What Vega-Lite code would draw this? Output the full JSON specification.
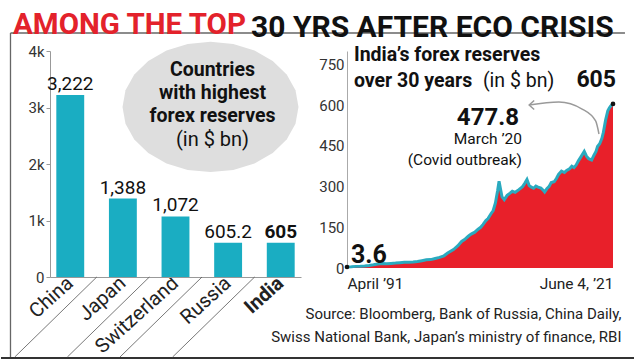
{
  "$schema": "https://vega.github.io/schema/vega-lite/v6.json",
  "background": "white",
  "padding": {"left": 0, "top": 9, "right": 0, "bottom": 0},
  "bounds": "flush",
  "spacing": 46,
  "config": {"view": {"stroke": null}, "font": "Roboto"},
  "hconcat": [
    {
      "width": 251,
      "height": 226,
      "title": {"text": "AMONG THE TOP", "anchor": "start", "frame": "group", "dx": -37, "color": "#e3222b", "font": "Roboto", "fontSize": 29.5, "fontWeight": "bold", "baseline": "alphabetic", "offset": -31},
      "data": {"values": [
        {"country": "China", "value": 3222},
        {"country": "Japan", "value": 1388},
        {"country": "Switzerland", "value": 1072},
        {"country": "Russia", "value": 605.2},
        {"country": "India", "value": 605}
      ]},
      "layer": [
        {
          "data": {"values": [{}]},
          "mark": {"type": "point", "shape": "M1,0 L0.9659,0.1915 L0.866,0.37 L0.7071,0.5233 L0.5,0.6409 L0.2588,0.7148 L0,0.74 L-0.2588,0.7148 L-0.5,0.6409 L-0.7071,0.5233 L-0.866,0.37 L-0.9659,0.1915 L-1,0 L-0.9659,-0.1915 L-0.866,-0.37 L-0.7071,-0.5233 L-0.5,-0.6409 L-0.2588,-0.7148 L0,-0.74 L0.2588,-0.7148 L0.5,-0.6409 L0.7071,-0.5233 L0.866,-0.37 L0.9659,-0.1915 Z", "filled": true, "color": "#dedede", "opacity": 1, "strokeWidth": 0, "size": 30976, "xOffset": 35},
          "encoding": {
            "x": {"datum": "Switzerland", "type": "nominal", "scale": {"domain": ["China", "Japan", "Switzerland", "Russia", "India"], "paddingInner": 0.47, "paddingOuter": 0.12}},
            "y": {"datum": 3009, "type": "quantitative", "scale": {"domain": [0, 4000]}}
          }
        },
        {
          "data": {"values": [{}]},
          "mark": {"type": "rule", "color": "#666", "strokeWidth": 1.3},
          "encoding": {
            "x": {"datum": "China", "type": "nominal", "bandPosition": -1.643},
            "y": {"datum": 4319, "type": "quantitative"},
            "y2": {"datum": -1434}
          }
        },
        {
          "data": {"values": [{}]},
          "mark": {"type": "rule", "color": "#666", "strokeWidth": 1.3},
          "encoding": {
            "x": {"datum": "China", "type": "nominal", "bandPosition": -1.643},
            "x2": {"datum": "China", "bandPosition": 20.39},
            "y": {"datum": 4319, "type": "quantitative"}
          }
        },
        {
          "data": {"values": [{}]},
          "mark": {"type": "rule", "color": "#333", "strokeWidth": 2},
          "encoding": {
            "x": {"datum": "China", "type": "nominal", "bandPosition": -1.983},
            "x2": {"datum": "China", "bandPosition": 20.75},
            "y": {"datum": -1434, "type": "quantitative"}
          }
        },
        {
          "data": {"values": [{}]},
          "mark": {"type": "text", "text": "Countries\nwith highest\nforex reserves", "lineBreak": "\n", "lineHeight": 23, "font": "Roboto", "fontSize": 19.5, "fontWeight": "bold", "color": "#111", "align": "center", "baseline": "middle", "dx": 37},
          "encoding": {
            "x": {"datum": "Switzerland", "type": "nominal"},
            "y": {"datum": 3664, "type": "quantitative"}
          }
        },
        {
          "data": {"values": [{}]},
          "mark": {"type": "text", "text": "(in $ bn)", "font": "Roboto", "fontSize": 20, "color": "#111", "align": "center", "baseline": "middle", "dx": 37},
          "encoding": {
            "x": {"datum": "Switzerland", "type": "nominal"},
            "y": {"datum": 2420, "type": "quantitative"}
          }
        },
        {
          "mark": {"type": "bar", "color": "#1aadc2"},
          "encoding": {
            "x": {"field": "country", "type": "nominal", "sort": null,
              "axis": {"title": null, "ticks": false, "domainColor": "#999", "labelAngle": -42, "labelFont": "Roboto", "labelFontSize": 20, "labelColor": "#222", "labelPadding": 3,
                "labelFontWeight": {"condition": {"test": "datum.value === 'India'", "value": "bold"}, "value": "normal"}}},
            "y": {"field": "value", "type": "quantitative",
              "axis": {"title": null, "grid": false, "values": [0, 1000, 2000, 3000, 4000], "labelExpr": "datum.value == 0 ? '0' : (datum.value / 1000) + 'k'", "domainColor": "#999", "tickColor": "#999", "tickSize": 4, "labelFont": "Roboto", "labelFontSize": 15, "labelColor": "#333", "labelPadding": 2}}
          }
        },
        {
          "transform": [{"filter": "datum.country !== 'India'"}],
          "mark": {"type": "text", "font": "Roboto", "fontSize": 19, "color": "#111", "baseline": "alphabetic", "dy": -5},
          "encoding": {
            "x": {"field": "country", "type": "nominal"},
            "y": {"field": "value", "type": "quantitative"},
            "text": {"field": "value", "type": "quantitative", "format": ","}
          }
        },
        {
          "transform": [{"filter": "datum.country === 'India'"}],
          "mark": {"type": "text", "font": "Roboto", "fontSize": 19, "fontWeight": "bold", "color": "#111", "baseline": "alphabetic", "dy": -5},
          "encoding": {
            "x": {"field": "country", "type": "nominal"},
            "y": {"field": "value", "type": "quantitative"},
            "text": {"field": "value", "type": "quantitative", "format": ","}
          }
        },
        {
          "transform": [{"filter": "datum.country !== 'India'"}],
          "mark": {"type": "rule", "color": "#555", "strokeWidth": 0.8, "x2Offset": -82},
          "encoding": {
            "x": {"field": "country", "type": "nominal", "bandPosition": 1.45},
            "x2": {"field": "country", "bandPosition": 1.45},
            "y": {"datum": 0, "type": "quantitative"},
            "y2": {"datum": -1416}
          }
        }
      ]
    },
    {
      "width": 266,
      "height": 217,
      "title": {"text": "30 YRS AFTER ECO CRISIS", "anchor": "start", "frame": "group", "dx": -96, "color": "#111", "font": "Roboto", "fontSize": 30, "fontWeight": "bold", "baseline": "alphabetic", "offset": -22},
      "data": {"values": [
        {"date": "1991-04-01", "value": 3.6},
        {"date": "1991-10-01", "value": 4.5},
        {"date": "1992-04-01", "value": 6.0},
        {"date": "1992-10-01", "value": 6.5},
        {"date": "1993-04-01", "value": 7.5},
        {"date": "1993-10-01", "value": 9.5},
        {"date": "1994-04-01", "value": 12},
        {"date": "1994-10-01", "value": 15},
        {"date": "1995-04-01", "value": 17},
        {"date": "1995-10-01", "value": 16},
        {"date": "1996-04-01", "value": 17},
        {"date": "1996-10-01", "value": 18},
        {"date": "1997-04-01", "value": 19.5},
        {"date": "1997-10-01", "value": 21},
        {"date": "1998-04-01", "value": 21},
        {"date": "1998-10-01", "value": 22},
        {"date": "1999-04-01", "value": 24},
        {"date": "1999-10-01", "value": 27},
        {"date": "2000-04-01", "value": 30},
        {"date": "2000-10-01", "value": 31},
        {"date": "2001-04-01", "value": 35},
        {"date": "2001-10-01", "value": 39},
        {"date": "2002-04-01", "value": 45},
        {"date": "2002-09-01", "value": 55},
        {"date": "2003-05-01", "value": 68},
        {"date": "2003-11-01", "value": 82},
        {"date": "2004-04-01", "value": 98},
        {"date": "2004-08-01", "value": 105},
        {"date": "2005-01-01", "value": 117},
        {"date": "2005-05-01", "value": 125},
        {"date": "2005-10-01", "value": 132},
        {"date": "2006-02-01", "value": 142},
        {"date": "2006-06-01", "value": 150},
        {"date": "2006-09-01", "value": 160},
        {"date": "2007-01-01", "value": 175},
        {"date": "2007-04-01", "value": 182},
        {"date": "2007-08-01", "value": 200},
        {"date": "2007-11-01", "value": 212},
        {"date": "2008-02-01", "value": 240},
        {"date": "2008-05-01", "value": 285},
        {"date": "2008-07-01", "value": 320},
        {"date": "2008-09-01", "value": 290},
        {"date": "2008-11-01", "value": 262},
        {"date": "2009-02-01", "value": 252},
        {"date": "2009-06-01", "value": 268},
        {"date": "2009-10-01", "value": 276},
        {"date": "2010-01-01", "value": 283},
        {"date": "2010-05-01", "value": 279},
        {"date": "2010-10-01", "value": 289},
        {"date": "2011-03-01", "value": 300},
        {"date": "2011-06-01", "value": 312},
        {"date": "2011-09-01", "value": 326},
        {"date": "2011-12-01", "value": 304},
        {"date": "2012-03-01", "value": 298},
        {"date": "2012-06-01", "value": 294},
        {"date": "2012-09-01", "value": 302},
        {"date": "2012-12-01", "value": 298},
        {"date": "2013-04-01", "value": 295},
        {"date": "2013-07-01", "value": 287},
        {"date": "2013-09-01", "value": 280},
        {"date": "2013-12-01", "value": 292},
        {"date": "2014-03-01", "value": 300},
        {"date": "2014-06-01", "value": 315},
        {"date": "2014-10-01", "value": 318},
        {"date": "2015-01-01", "value": 330},
        {"date": "2015-04-01", "value": 345},
        {"date": "2015-08-01", "value": 357},
        {"date": "2015-12-01", "value": 352},
        {"date": "2016-03-01", "value": 360},
        {"date": "2016-07-01", "value": 366},
        {"date": "2016-10-01", "value": 375},
        {"date": "2017-01-01", "value": 370},
        {"date": "2017-04-01", "value": 380},
        {"date": "2017-07-01", "value": 395},
        {"date": "2017-10-01", "value": 408},
        {"date": "2018-03-01", "value": 430},
        {"date": "2018-06-01", "value": 412},
        {"date": "2018-09-01", "value": 403},
        {"date": "2019-01-01", "value": 398},
        {"date": "2019-04-01", "value": 415},
        {"date": "2019-07-01", "value": 430},
        {"date": "2019-09-01", "value": 448},
        {"date": "2019-12-01", "value": 458},
        {"date": "2020-03-01", "value": 477.8},
        {"date": "2020-05-01", "value": 500},
        {"date": "2020-08-01", "value": 545},
        {"date": "2020-11-01", "value": 580},
        {"date": "2021-01-01", "value": 590},
        {"date": "2021-03-01", "value": 597},
        {"date": "2021-04-01", "value": 600},
        {"date": "2021-06-04", "value": 605}
      ]},
      "layer": [
        {
          "mark": {"type": "area", "color": "#e8202a", "line": false},
          "encoding": {
            "x": {"field": "date", "type": "temporal",
              "scale": {"type": "utc", "domain": [{"year": 1991, "month": 4, "date": 1, "utc": true}, {"year": 2021, "month": 6, "date": 4, "utc": true}]},
              "axis": {"title": ["Source: Bloomberg, Bank of Russia, China Daily,", "Swiss National Bank, Japan\u2019s ministry of finance, RBI"],
                "titleFont": "Roboto", "titleFontSize": 15, "titleFontWeight": "normal", "titleColor": "#222", "titleAnchor": "end", "titleAlign": "right", "titleX": 274, "titleLineHeight": 23, "titlePadding": 15,
                "values": [{"year": 1991, "month": 4, "date": 1, "utc": true}, {"year": 2021, "month": 6, "date": 4, "utc": true}],
                "labelExpr": "utcyear(datum.value) < 2000 ? 'April \u201991' : 'June 4,  \u201921'",
                "labelFlush": true, "ticks": false, "domain": false, "grid": false,
                "labelFont": "Roboto", "labelFontSize": 15.5, "labelColor": "#222", "labelPadding": 8}},
            "y": {"field": "value", "type": "quantitative",
              "scale": {"domain": [0, 800]},
              "axis": {"title": null, "grid": false, "values": [0, 150, 300, 450, 600, 750], "ticks": false, "domainColor": "#aaa", "labelFont": "Roboto", "labelFontSize": 15, "labelColor": "#333", "labelPadding": 3}}
          }
        },
        {
          "mark": {"type": "line", "color": "#2aaabf", "strokeWidth": 3},
          "encoding": {
            "x": {"field": "date", "type": "temporal"},
            "y": {"field": "value", "type": "quantitative"}
          }
        },
        {
          "transform": [{"filter": "datum.value == 3.6 || datum.value == 605"}],
          "mark": {"type": "point", "filled": true, "color": "#111", "opacity": 1, "size": 22},
          "encoding": {
            "x": {"field": "date", "type": "temporal"},
            "y": {"field": "value", "type": "quantitative"}
          }
        },
        {
          "data": {"values": [
            {"date": "2011-12-01", "value": 601},
            {"date": "2015-04-15", "value": 612},
            {"date": "2017-12-01", "value": 586},
            {"date": "2019-06-15", "value": 542},
            {"date": "2019-11-01", "value": 494}
          ]},
          "mark": {"type": "line", "color": "#9a9a9a", "strokeWidth": 1.5, "interpolate": "monotone"},
          "encoding": {
            "x": {"field": "date", "type": "temporal"},
            "y": {"field": "value", "type": "quantitative"}
          }
        },
        {
          "data": {"values": [{"date": "2011-12-01", "value": 601}]},
          "mark": {"type": "point", "shape": "M 1 -0.9 L 0 0 L 1 0.9", "filled": false, "color": "#9a9a9a", "strokeWidth": 1.5, "opacity": 1, "size": 100},
          "encoding": {
            "x": {"field": "date", "type": "temporal"},
            "y": {"field": "value", "type": "quantitative"}
          }
        },
        {
          "data": {"values": [{}]},
          "mark": {"type": "text", "text": "India\u2019s forex reserves", "font": "Roboto", "fontSize": 19.5, "fontWeight": "bold", "color": "#111", "align": "left", "baseline": "middle"},
          "encoding": {
            "x": {"datum": {"year": 1992, "month": 1, "date": 15, "utc": true}, "type": "temporal"},
            "y": {"datum": 786, "type": "quantitative"}
          }
        },
        {
          "data": {"values": [{}]},
          "mark": {"type": "text", "text": "over 30 years", "font": "Roboto", "fontSize": 19.5, "fontWeight": "bold", "color": "#111", "align": "left", "baseline": "middle"},
          "encoding": {
            "x": {"datum": {"year": 1992, "month": 1, "date": 15, "utc": true}, "type": "temporal"},
            "y": {"datum": 690, "type": "quantitative"}
          }
        },
        {
          "data": {"values": [{}]},
          "mark": {"type": "text", "text": "(in $ bn)", "font": "Roboto", "fontSize": 19.5, "color": "#111", "align": "left", "baseline": "middle"},
          "encoding": {
            "x": {"datum": {"year": 2006, "month": 9, "date": 1, "utc": true}, "type": "temporal"},
            "y": {"datum": 690, "type": "quantitative"}
          }
        },
        {
          "data": {"values": [{}]},
          "mark": {"type": "text", "text": "605", "font": "Roboto", "fontSize": 23, "fontWeight": "bold", "color": "#111", "align": "right", "baseline": "middle", "dx": 3},
          "encoding": {
            "x": {"datum": {"year": 2021, "month": 6, "date": 4, "utc": true}, "type": "temporal"},
            "y": {"datum": 693, "type": "quantitative"}
          }
        },
        {
          "data": {"values": [{}]},
          "mark": {"type": "text", "text": "477.8", "font": "Roboto", "fontSize": 24, "fontWeight": "bold", "color": "#111", "align": "right", "baseline": "middle"},
          "encoding": {
            "x": {"datum": {"year": 2010, "month": 10, "date": 1, "utc": true}, "type": "temporal"},
            "y": {"datum": 553, "type": "quantitative"}
          }
        },
        {
          "data": {"values": [{}]},
          "mark": {"type": "text", "text": "March \u201920", "font": "Roboto", "fontSize": 15.5, "color": "#111", "align": "right", "baseline": "middle", "dx": 3},
          "encoding": {
            "x": {"datum": {"year": 2010, "month": 10, "date": 1, "utc": true}, "type": "temporal"},
            "y": {"datum": 476, "type": "quantitative"}
          }
        },
        {
          "data": {"values": [{}]},
          "mark": {"type": "text", "text": "(Covid outbreak)", "font": "Roboto", "fontSize": 15.5, "color": "#111", "align": "right", "baseline": "middle", "dx": 3},
          "encoding": {
            "x": {"datum": {"year": 2010, "month": 10, "date": 1, "utc": true}, "type": "temporal"},
            "y": {"datum": 398, "type": "quantitative"}
          }
        },
        {
          "data": {"values": [{}]},
          "mark": {"type": "text", "text": "3.6", "font": "Roboto", "fontSize": 25, "fontWeight": "bold", "color": "#111", "align": "left", "baseline": "middle", "dx": 4},
          "encoding": {
            "x": {"datum": {"year": 1991, "month": 4, "date": 1, "utc": true}, "type": "temporal"},
            "y": {"datum": 48, "type": "quantitative"}
          }
        }
      ]
    }
  ]
}
